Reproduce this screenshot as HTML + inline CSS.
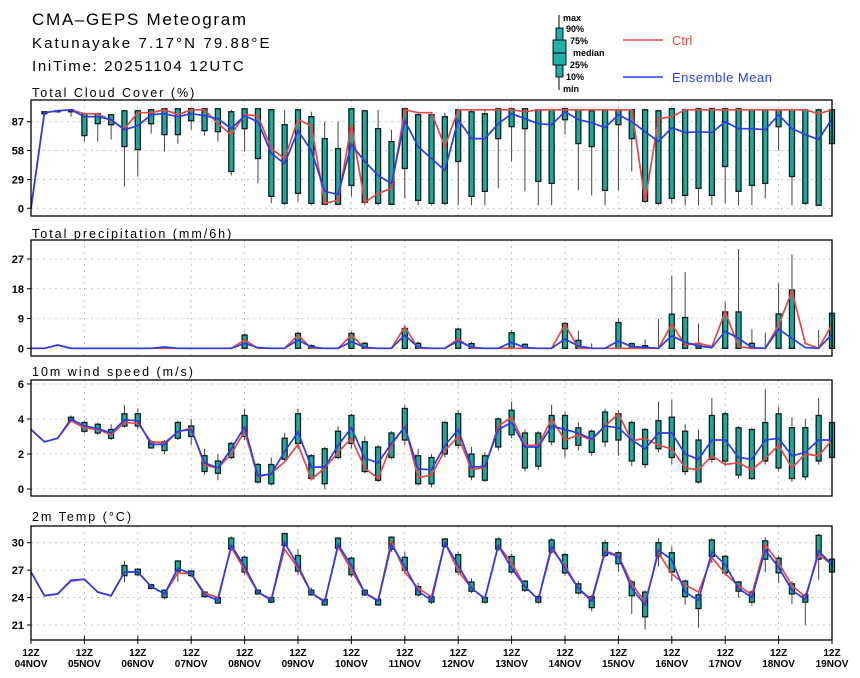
<!DOCTYPE html>
<html><head><meta charset="utf-8"><style>
body{margin:0;background:#fff;}
svg{display:block;font-family:"Liberation Sans",sans-serif;}
</style></head><body>
<svg id="chart" width="860" height="678" viewBox="0 0 860 678">
<g id="hdr">
<text x="32" y="25" font-size="17" letter-spacing="1.7">CMA–GEPS Meteogram</text>
<text x="32" y="48" font-size="15" letter-spacing="2.1">Katunayake 7.17°N 79.88°E</text>
<text x="32" y="71" font-size="15" letter-spacing="1.7">IniTime: 20251104 12UTC</text>
</g>
<g id="legend" font-size="9" font-weight="bold">
<line x1="559" y1="15" x2="559" y2="90" stroke="#000" stroke-width="1"/>
<rect x="556" y="28" width="7" height="49" fill="#20b0a6" stroke="#000" stroke-width="0.9"/>
<rect x="553" y="40" width="13" height="25" fill="#20b0a6" stroke="#000" stroke-width="0.9"/>
<line x1="553" y1="53" x2="566" y2="53" stroke="#000"/>
<text x="563" y="21">max</text>
<text x="566" y="32">90%</text>
<text x="570" y="44">75%</text>
<text x="573" y="56">median</text>
<text x="570" y="68">25%</text>
<text x="566" y="80">10%</text>
<text x="563" y="92">min</text>
<line x1="623" y1="40" x2="663" y2="40" stroke="#e84848" stroke-width="1.5"/>
<text x="672" y="45" font-size="13" font-weight="normal" fill="#e84848">Ctrl</text>
<line x1="623" y1="77" x2="663" y2="77" stroke="#2a3ee8" stroke-width="1.5"/>
<text x="672" y="82" font-size="13" font-weight="normal" fill="#2a3ee8" letter-spacing="0.5">Ensemble Mean</text>
</g>
</svg>
<script>
const dayLabels=["04NOV","05NOV","06NOV","07NOV","08NOV","09NOV","10NOV","11NOV","12NOV","13NOV","14NOV","15NOV","16NOV","17NOV","18NOV","19NOV"];
const cloudTicks=[0,29,58,87];
const precTicks=[0,9,18,27];
const windTicks=[0,2,4,6];
const tempTicks=[21,24,27,30];

const cloudCtrl=[0,96,98,99,95,95,88,80,96,96,99,94,99,99,85,74,94,93,60,50,89,83,5,8,84,6,15,20,99,96,96,62,99,99,99,99,99,97,99,99,99,99,99,99,99,99,7,90,92,99,99,99,99,99,99,99,99,99,99,95,99];
const cloudMean=[0,96,98,99,92,92,89,79,83,94,95,92,95,93,90,80,93,87,55,45,78,58,17,14,64,47,33,25,88,62,50,38,89,70,70,85,95,90,85,84,97,89,86,81,94,87,77,67,81,76,77,76,87,80,80,79,94,80,74,69,90];
const cloudMin=[null,95,96,92,67,67,69,22,32,75,57,65,79,73,67,33,57,25,5,3,7,3,3,3,12,3,3,3,10,3,3,3,3,3,3,20,47,17,3,3,74,18,13,3,18,37,5,3,5,3,3,3,5,3,3,10,58,3,3,3,60];
const cloudP10=[null,95,97,97,73,85,84,62,59,85,74,74,88,78,77,37,80,50,12,5,15,5,4,4,23,6,5,4,40,8,5,5,47,12,17,70,82,80,27,25,89,65,62,18,84,70,7,5,10,13,20,13,42,17,23,25,82,32,5,3,65];
const cloudP90=[null,97,98,99,95,95,94,98,98,99,100,100,100,100,100,97,100,100,99,84,99,92,70,60,100,98,80,67,100,94,94,92,99,97,95,100,100,100,99,99,100,99,98,99,99,99,99,98,100,99,100,100,100,100,99,99,99,99,99,99,99];
const cloudMax=[null,97,99,99,96,96,95,99,99,100,100,100,100,100,100,99,100,100,100,99,100,97,87,87,100,99,99,79,100,97,97,96,100,99,99,100,100,100,100,100,100,100,99,100,100,100,100,99,100,100,100,100,100,100,100,100,100,100,100,100,100];

const precCtrl=[0,0,1,0,0,0,0,0,0,0,0,0,0,0,0,0,2.5,0,0,0,4,0,0,0,4,0,0,0,6.5,0,0,0,2.8,0,0,0,0,0,0,0,7.2,0,0,0,0,0,0,0,7.3,1,1.5,0.5,11,0.5,0,0,7,17.3,1.5,0,7.2];
const precMean=[0,0,1,0,0,0,0,0,0,0,0.4,0,0,0,0,0,1.5,0.2,0,0,2.5,0.4,0,0,2,0.3,0,0,4,0.3,0,0,2.2,0.3,0,0,1.8,0.2,0,0,2.8,0.7,0,0,2.2,0.5,0.3,0,3.8,1.8,0.7,0.2,5.2,3,0.2,0,5.8,3,0.2,0,4.2];
const precP90=[0,0,0,0,0,0,0,0,0,0,0,0,0,0,0,0,4,0,0,0,4.5,0.8,0,0,4.5,1.5,0,0,6,1.5,0,0,5.8,1.4,0,0,4.7,1.2,0,0,7.5,2.4,0,0,7.8,1.4,0.8,0,10.3,9.3,1.5,0,11,11,1.5,0,10.4,17.6,0,0,10.6];
const precMax=[0,0,0,0,0,0,0,0,0,0,0,0,0,0,0,0,4.5,0,0,0,5,1.2,0,0,5,2,0,0,7,2,0,0,6.2,2,0,0,5.5,1.5,0,0,8,5.3,1.5,0,9,1.8,2.7,8.9,22,23,7.5,0,13.9,30,5.8,4.8,19.6,28.4,0,5.5,11];

const windCtrl=[3.4,2.7,2.9,3.9,3.5,3.4,3.1,3.8,3.75,2.7,2.65,3.25,3.5,1.35,1.2,2.0,3.3,0.7,0.9,1.55,2.55,0.55,1.2,2.1,2.9,1.2,0.6,2.5,3.6,0.65,0.8,2.2,3.0,1.1,1.25,3.6,4.1,2.5,2.5,4.0,2.8,3.1,2.8,3.6,4.3,2.75,2.9,2.5,2.3,1.2,1.1,1.9,1.4,1.5,1.1,1.75,2.5,1.2,2.0,1.9,2.8];
const windMean=[3.4,2.7,2.9,4.0,3.6,3.45,3.2,3.95,3.9,2.55,2.55,3.3,3.4,1.5,1.2,2.3,3.55,0.75,0.85,2.15,3.25,1.25,1.25,2.5,3.5,1.75,1.5,2.6,3.55,1.15,1.1,2.5,3.4,1.25,1.3,3.4,3.8,2.4,2.4,3.6,3.4,3.2,2.85,3.6,3.5,2.8,2.3,3.2,3.2,2.0,1.7,2.8,2.8,1.8,1.7,2.8,2.9,1.9,2.1,2.8,2.8];
const windMin=[null,null,null,3.8,3.2,3.1,2.8,3.5,3.4,2.3,2.0,2.8,2.5,0.8,0.5,1.7,2.8,0.3,0.2,1.6,2.3,0.5,0.0,1.7,2.3,0.9,0.4,1.7,2.5,0.2,0.1,1.8,2.3,0.5,0.4,2.2,2.9,1.0,1.1,2.5,1.8,2.2,1.9,2.4,1.9,1.3,1.2,2.1,1.4,0.8,0.3,1.5,1.3,0.6,0.5,1.4,1.0,0.4,0.5,1.4,1.6];
const windP10=[null,null,null,3.9,3.3,3.2,2.9,3.6,3.6,2.35,2.2,2.9,3.0,1.0,0.9,1.8,3.0,0.4,0.3,1.7,2.6,0.6,0.3,1.8,2.6,1.0,0.5,1.8,2.8,0.3,0.3,2.0,2.5,0.7,0.5,2.4,3.1,1.2,1.3,2.7,2.3,2.5,2.1,2.7,2.8,1.6,1.4,2.3,1.8,1.0,0.4,1.7,1.6,0.8,0.6,1.6,1.2,0.6,0.7,1.6,1.8];
const windP90=[null,null,null,4.1,3.8,3.7,3.4,4.3,4.3,2.7,2.7,3.8,3.6,1.9,1.6,2.6,4.2,1.4,1.4,2.9,4.3,1.9,2.3,3.3,4.2,2.7,2.4,3.2,4.6,1.9,1.8,3.8,4.3,2.0,1.9,4.0,4.5,3.2,3.2,4.2,4.2,3.5,3.3,4.4,4.3,3.8,3.4,3.9,4.1,3.3,2.8,4.2,4.3,3.5,3.4,3.8,4.3,3.5,3.5,4.2,3.8];
const windMax=[null,null,null,4.2,3.9,3.8,3.7,4.8,4.6,2.8,2.8,3.9,4.0,2.3,2.0,2.7,4.6,1.5,1.8,3.2,4.6,2.0,2.4,3.6,4.3,3.0,2.5,3.3,4.8,2.3,2.0,3.9,4.5,2.4,2.1,4.1,5.0,3.4,3.3,4.8,4.4,3.8,3.4,4.6,4.5,3.9,3.5,5.0,5.1,3.7,3.4,5.2,4.4,3.6,3.5,5.7,4.7,4.1,4.0,5.2,4.0];

const tempCtrl=[26.8,24.2,24.4,25.8,26.0,24.6,24.2,26.8,26.8,25.2,24.4,26.7,26.6,24.5,24.0,29.5,27.0,24.6,23.8,29.3,27.2,24.5,23.6,29.6,27.0,24.5,23.7,30.2,26.8,25.0,24.1,30.0,26.9,25.0,23.9,29.7,27.8,25.2,23.8,29.3,27.5,25.0,23.8,29.1,28.6,25.5,23.5,28.9,26.6,25.4,24.6,28.4,26.6,25.3,24.3,29.8,27.8,25.3,24.1,28.7,27.6];
const tempMean=[26.8,24.2,24.4,25.9,26.0,24.6,24.2,26.8,26.8,25.2,24.4,27.2,26.6,24.3,23.7,29.7,27.4,24.6,23.7,30.0,27.5,24.5,23.5,29.8,27.5,24.5,23.6,29.8,27.4,24.7,23.7,30.0,27.5,25.0,23.9,29.7,27.2,25.2,23.8,29.6,27.2,25.0,23.6,29.0,28.5,25.0,23.2,29.2,28.1,24.6,23.7,29.0,27.6,25.0,24.0,29.2,27.3,24.8,23.8,29.1,27.6];
const tempMin=[null,null,null,null,null,null,null,25.7,26.3,24.9,23.8,25.7,26.2,24.0,23.3,29.1,26.5,24.3,23.4,29.5,26.5,24.2,23.1,29.2,26.2,24.2,23.1,29.0,26.6,24.1,23.3,29.4,26.5,24.5,23.3,29.1,26.6,24.6,23.3,28.8,26.4,24.3,22.5,28.4,26.8,22.2,20.5,27.4,25.8,23.2,20.7,27.8,26.4,24.0,23.1,26.8,25.6,23.3,21.0,25.9,26.3];
const tempP10=[null,null,null,null,null,null,null,26.4,26.5,25.0,24.0,26.9,26.4,24.1,23.4,29.3,26.8,24.4,23.5,29.7,26.9,24.3,23.2,29.4,26.5,24.3,23.2,29.3,27.0,24.3,23.5,29.6,26.8,24.7,23.5,29.3,26.8,24.8,23.5,29.0,26.7,24.5,22.9,28.6,27.7,24.2,21.9,28.5,26.8,24.1,22.8,28.5,26.7,24.7,23.5,28.2,26.7,24.4,23.5,28.2,26.8];
const tempP90=[null,null,null,null,null,null,null,27.5,27.1,25.4,24.8,28.0,26.9,24.6,24.0,30.5,28.4,24.8,24.0,31.0,28.6,24.8,23.8,30.5,28.3,24.8,23.8,30.6,28.4,25.2,24.1,30.4,28.7,25.7,24.0,30.4,28.5,25.8,24.1,30.3,28.7,25.5,24.1,30.0,28.9,25.7,24.6,30.0,28.9,25.8,24.3,30.3,28.5,25.7,24.6,30.2,28.3,25.5,24.3,30.8,28.2];
const tempMax=[null,null,null,null,null,null,null,28.0,27.2,25.5,24.9,28.1,27.0,24.7,24.1,30.7,28.6,24.9,24.1,31.1,29.3,25.1,23.9,30.6,28.5,24.9,23.9,30.7,29.0,25.6,24.2,30.5,29.0,26.1,24.2,30.6,28.8,25.9,24.3,30.5,28.9,25.8,24.3,30.3,29.0,25.9,24.8,30.5,29.6,26.0,24.6,30.5,28.7,25.8,24.8,30.6,28.6,25.8,24.5,31.0,28.5];

const NS="http://www.w3.org/2000/svg";
const svg=document.getElementById('chart');
const X0=31,X1=832,NSTEP=60;
function xs(i){return X0+i*(X1-X0)/NSTEP;}
function mk(tag,attrs,parent){const e=document.createElementNS(NS,tag);for(const k in attrs)e.setAttribute(k,attrs[k]);(parent||svg).appendChild(e);return e;}
function lin(v0,p0,v1,p1){return v=>p0+(v-v0)*(p1-p0)/(v1-v0);}

const panels=[
 {key:'cloud',title:'Total Cloud Cover (%)',top:100,bot:216,ty:97,ys:lin(0,208.3,87,121.7),ticks:cloudTicks,ctrl:cloudCtrl,mean:cloudMean,mn:cloudMin,lo:cloudP10,hi:cloudP90,mx:cloudMax},
 {key:'precip',title:'Total precipitation (mm/6h)',top:240,bot:356,ty:238,ys:lin(0,348.3,27,259),ticks:precTicks,ctrl:precCtrl,mean:precMean,mn:null,lo:null,hi:precP90,mx:precMax},
 {key:'wind',title:'10m wind speed (m/s)',top:380,bot:496,ty:376,ys:lin(0,489,6,384),ticks:windTicks,ctrl:windCtrl,mean:windMean,mn:windMin,lo:windP10,hi:windP90,mx:windMax},
 {key:'temp',title:'2m Temp (°C)',top:526,bot:640,ty:521,ys:lin(21,625,30,542.7),ticks:tempTicks,ctrl:tempCtrl,mean:tempMean,mn:tempMin,lo:tempP10,hi:tempP90,mx:tempMax}
];

panels.forEach(p=>{
 const g=mk('g',{});
 
 
 const t=mk('text',{x:32,y:p.ty,'font-size':12.5,'letter-spacing':'2'},g);
 t.textContent=p.title;
 
 
 p.ticks.forEach(v=>{
  const y=p.ys(v);
  const gl=mk('line',{x1:X0,x2:X1,y1:y,y2:y,stroke:'#bbb','stroke-width':0.8,'stroke-dasharray':'2,4'},g);
  
  
  const tk=mk('line',{x1:X0-4,x2:X0,y1:y,y2:y,stroke:'#000','stroke-width':1},g);
  
  
  const tl=mk('text',{x:24,y:y+4,'font-size':11,'font-weight':'bold','text-anchor':'end'},g);
  tl.textContent=String(v);
  
  
 });
 for(let d=1;d<dayLabels.length-1;d++){
  const x=xs(d*4);
  const vl=mk('line',{x1:x,x2:x,y1:p.top,y2:p.bot,stroke:'#bbb','stroke-width':0.8,'stroke-dasharray':'2,4'},g);
  
  
 }
 for(let i=0;i<p.ctrl.length;i++){
  const mx=p.mx[i]; if(mx===null||mx===undefined) continue;
  const mn=p.mn?p.mn[i]:0, lo=p.lo?p.lo[i]:0, hi=p.hi[i];
  if(p.key==='precip'&&mx<=0.05) continue;
  const x=xs(i);
  const w=mk('line',{x1:x,x2:x,y1:p.ys(mn),y2:p.ys(mx),stroke:'#444','stroke-width':1},g);
  
  
  if(hi>lo){
   const y1=p.ys(hi),y2=p.ys(lo);
   const b=mk('rect',{x:x-2.5,y:y1,width:5,height:Math.max(1,y2-y1),fill:'#1fa89e',stroke:'#0b1f1d','stroke-width':1.3},g);
   
   
  }
 }
 const pts=a=>a.map((v,i)=>xs(i).toFixed(1)+','+p.ys(v).toFixed(1)).join(' ');
 const lc=mk('polyline',{points:pts(p.ctrl),fill:'none',stroke:'#e84848','stroke-width':1.7},g);
 
 
 const lm=mk('polyline',{points:pts(p.mean),fill:'none',stroke:'#2a3ee8','stroke-width':1.7},g);
 
 
 const fr=mk('rect',{x:X0,y:p.top,width:X1-X0,height:p.bot-p.top,fill:'none',stroke:'#000','stroke-width':1.3},g);
 
 
});

const xg=mk('g',{'font-size':10,'font-weight':'bold','text-anchor':'middle'});


dayLabels.forEach((d,k)=>{
 const x=xs(k*4);
 const tk=mk('line',{x1:x,x2:x,y1:636,y2:644,stroke:'#000','stroke-width':1},xg);
 
 
 const t1=mk('text',{x:x,y:656},xg);
 t1.textContent='12Z';
 
 
 const t2=mk('text',{x:x,y:667},xg);
 t2.textContent=d;
 
 
});
</script>
</body></html>
